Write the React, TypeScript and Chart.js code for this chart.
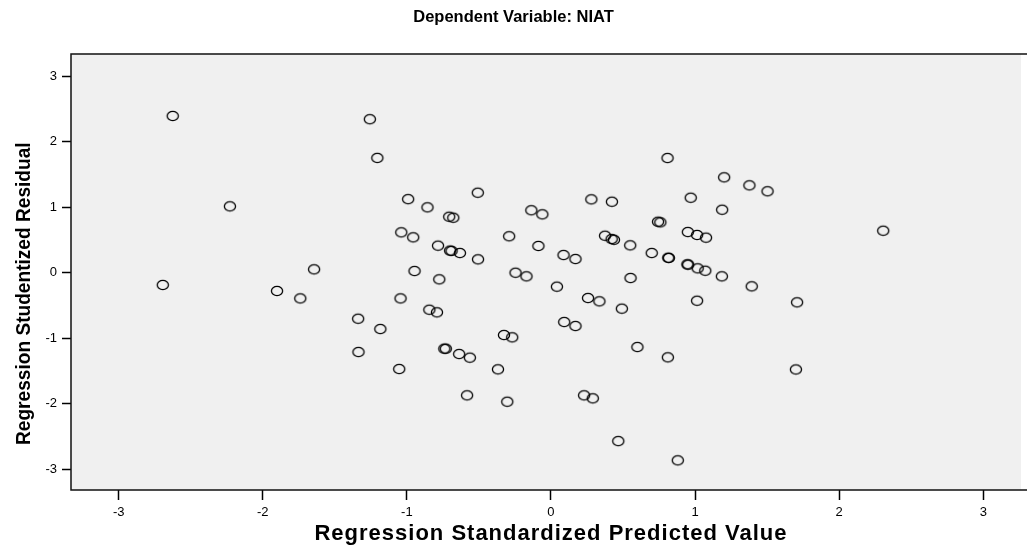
import React, { useEffect, useRef } from "react";
import { Chart, registerables } from "chart.js";

Chart.register(...registerables);

const chartTitle = "Dependent Variable: NIAT";
const xAxisTitle = "Regression Standardized Predicted Value";
const yAxisTitle = "Regression Studentized Residual";

const xTicks = [-3, -2, -1, 0, 1, 2, 3];
const yTicks = [-3, -2, -1, 0, 1, 2, 3];

const xMin = -3.331;
const xMax = 3.262;
const yMin = -3.32;
const yMax = 3.336;

const predictedValues = [
  -2.625, -1.257, -1.205, -2.228, -0.991, -0.857, -0.706, -0.678, -1.039, -0.956,
  -0.784, -0.7, -0.69, -0.632, -1.644, -0.947, -2.694, -0.775, -1.901, -1.74,
  -1.044, -0.844, -0.791, -1.338, -1.184, -0.74, -0.73, -1.336, -1.053, -0.637,
  -0.563, -0.582, -0.303, -0.368, -0.326, -0.269, -0.506, -0.246, -0.17, 0.087,
  0.17, -0.087, 0.041, 0.257, 0.336, 0.092, 0.17, 0.492, 0.552, 0.699,
  0.814, 0.818, 0.947, 0.952, 1.018, 1.071, 1.186, 1.014, 0.6, 0.811,
  0.23, 0.29, 0.467, 0.88, 1.393, -0.508, -0.29, -0.136, -0.06, 0.28,
  0.423, 0.375, 0.421, 0.437, 0.55, 0.743, 0.759, 0.809, 0.97, 0.95,
  1.014, 1.076, 1.202, 1.188, 1.377, 1.503, 2.306, 1.708, 1.7,
];

const residualValues = [
  2.39, 2.34, 1.75, 1.01, 1.12, 0.995, 0.852, 0.837, 0.613, 0.537,
  0.41, 0.335, 0.33, 0.298, 0.049, 0.023, -0.19, -0.104, -0.282, -0.395,
  -0.395, -0.568, -0.608, -0.705, -0.863, -1.163, -1.163, -1.214, -1.473, -1.244,
  -1.3, -1.875, -1.972, -1.478, -0.954, -0.99, 0.201, -0.003, -0.058, 0.267,
  0.206, 0.405, -0.216, -0.389, -0.44, -0.756, -0.817, -0.552, -0.084, 0.298,
  0.226, 0.222, 0.125, 0.12, 0.064, 0.028, -0.058, -0.43, -1.137, -1.295,
  -1.875, -1.921, -2.573, -2.867, -0.211, 1.218, 0.553, 0.95, 0.888, 1.117,
  1.081, 0.562, 0.511, 0.5, 0.415, 0.776, 0.766, 1.748, 1.142, 0.618,
  0.573, 0.532, 1.453, 0.959, 1.331, 1.24, 0.638, -0.455, -1.48,
];

const sansFamily = '"Liberation Sans", Arial, Helvetica, sans-serif';

function makeMarker(): HTMLCanvasElement {
  const c = document.createElement("canvas");
  c.width = 16;
  c.height = 14;
  const g = c.getContext("2d")!;
  g.lineWidth = 1.3;
  g.strokeStyle = "#000";
  g.beginPath();
  g.ellipse(8, 7, 5.6, 4.6, 0, 0, Math.PI * 2);
  g.stroke();
  return c;
}

const decorPlugin = {
  id: "decor",
  beforeDraw(chart: any) {
    const { ctx, chartArea } = chart;
    ctx.save();
    ctx.fillStyle = "#ffffff";
    ctx.fillRect(0, 0, chart.width, chart.height);
    ctx.fillStyle = "#f0f0f0";
    ctx.fillRect(chartArea.left, chartArea.top, chartArea.right - chartArea.left, chartArea.bottom - chartArea.top);
    ctx.restore();
  },
  afterDraw(chart: any) {
    const { ctx, chartArea } = chart;
    ctx.save();
    ctx.strokeStyle = "#111";
    ctx.lineWidth = 1.5;
    ctx.beginPath();
    ctx.moveTo(chart.width, chartArea.top);
    ctx.lineTo(chartArea.left, chartArea.top);
    ctx.lineTo(chartArea.left, chartArea.bottom);
    ctx.lineTo(chart.width, chartArea.bottom);
    ctx.stroke();

    ctx.fillStyle = "#000";
    ctx.textBaseline = "alphabetic";
    ctx.textAlign = "center";
    ctx.font = `bold 16.5px ${sansFamily}`;
    ctx.fillText(chartTitle, chart.width / 2, 22);

    const xc = chart.scales.x.getPixelForValue(0);
    ctx.font = `bold 22px ${sansFamily}`;
    (ctx as any).letterSpacing = "1px";
    ctx.fillText(xAxisTitle, xc, 540);
    (ctx as any).letterSpacing = "0px";

    ctx.translate(30, 445);
    ctx.rotate(-Math.PI / 2);
    ctx.scale(0.91, 1);
    ctx.textAlign = "left";
    ctx.font = `bold 21px ${sansFamily}`;
    ctx.fillText(yAxisTitle, 0, 0);
    ctx.restore();
  },
};

export default function App() {
  const canvasRef = useRef<HTMLCanvasElement | null>(null);

  useEffect(() => {
    const canvas = canvasRef.current;
    if (!canvas) return;
    const marker = makeMarker();
    const points = predictedValues.map((x, i) => ({ x, y: residualValues[i] }));
    const tickFont = { family: sansFamily, size: 13 };
    const chart = new Chart(canvas, {
      type: "scatter",
      data: {
        datasets: [
          {
            data: points,
            pointStyle: marker as any,
            pointRadius: 5,
            pointHoverRadius: 5,
            showLine: false,
          },
        ],
      },
      options: {
        animation: false,
        responsive: false,
        devicePixelRatio: 1,
        layout: { padding: { top: 54, left: 0, right: 0, bottom: 0 } },
        plugins: {
          legend: { display: false },
          title: { display: false },
          tooltip: { enabled: false },
        },
        events: [],
        scales: {
          x: {
            type: "linear",
            min: xMin,
            max: xMax,
            afterFit: (s: any) => {
              s.height = 64;
            },
            afterBuildTicks: (s: any) => {
              s.ticks = xTicks.map((v) => ({ value: v }));
            },
            grid: {
              display: true,
              drawOnChartArea: false,
              drawTicks: true,
              tickLength: 10,
              tickColor: "#000",
              tickWidth: 1.5,
            },
            border: { display: false },
            ticks: {
              color: "#000",
              font: tickFont,
              padding: 5,
              maxRotation: 0,
              autoSkip: false,
              callback: (v: any) => `${v}`,
            },
          },
          y: {
            type: "linear",
            min: yMin,
            max: yMax,
            afterFit: (s: any) => {
              s.width = 71;
            },
            afterBuildTicks: (s: any) => {
              s.ticks = yTicks.map((v) => ({ value: v }));
            },
            grid: {
              display: true,
              drawOnChartArea: false,
              drawTicks: true,
              tickLength: 9,
              tickColor: "#000",
              tickWidth: 1.5,
            },
            border: { display: false },
            ticks: {
              color: "#000",
              font: tickFont,
              padding: 5,
              autoSkip: false,
              callback: (v: any) => `${v}`,
            },
          },
        },
      },
      plugins: [decorPlugin],
    });
    return () => chart.destroy();
  }, []);

  return (
    <div style={{ position: "absolute", left: 0, top: 0, width: 1027, height: 554, background: "#fff" }}>
      <canvas ref={canvasRef} width={1027} height={554} style={{ display: "block" }} />
    </div>
  );
}
